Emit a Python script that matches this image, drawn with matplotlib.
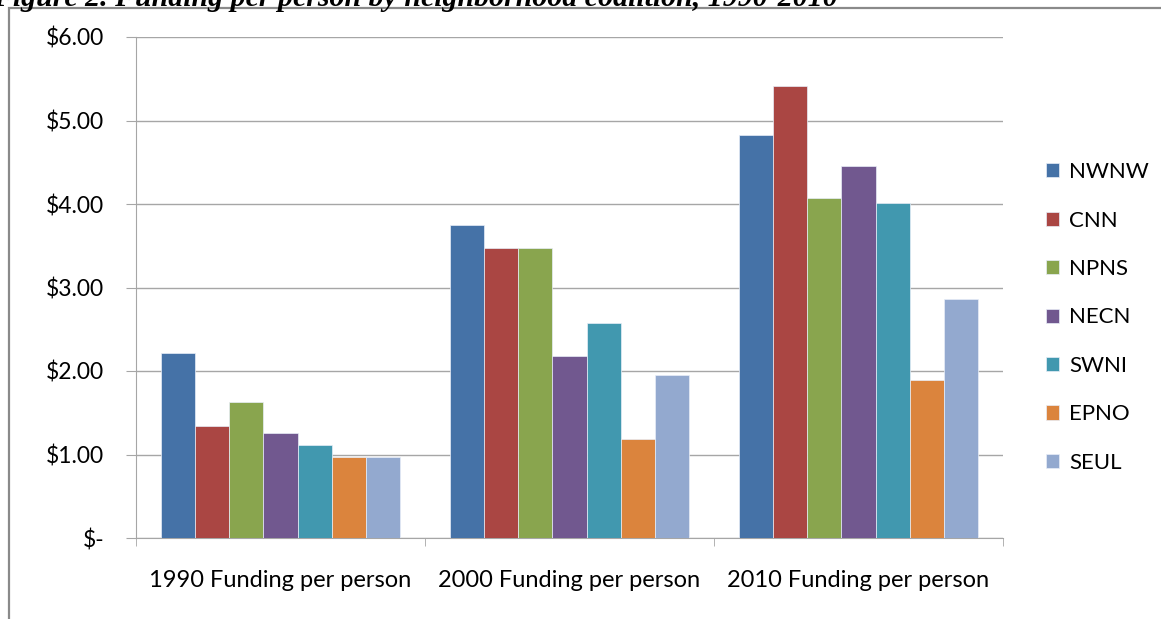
import numpy as np
import matplotlib
matplotlib.use("Agg")
import matplotlib.pyplot as plt
from matplotlib.patches import Rectangle
from matplotlib.ticker import FuncFormatter

# ── data ──
categories = ["1990 Funding per person", "2000 Funding per person", "2010 Funding per person"]
coalitions = ["NWNW", "CNN", "NPNS", "NECN", "SWNI", "EPNO", "SEUL"]

nwnw = [2.22, 3.75, 4.83]
cnn  = [1.34, 3.47, 5.41]
npns = [1.63, 3.47, 4.07]
necn = [1.26, 2.18, 4.46]
swni = [1.11, 2.57, 4.01]
epno = [0.97, 1.19, 1.89]
seul = [0.97, 1.95, 2.86]

series = [nwnw, cnn, npns, necn, swni, epno, seul]
colors = ["#4572A7", "#AA4643", "#89A54E", "#71588F", "#4198AF", "#DB843D", "#93A9CF"]

title = "Figure 2. Funding per person by neighborhood coalition, 1990-2010"

plt.rcParams["font.family"] = ["Lato", "DejaVu Sans"]

W, H = 1161, 619
fig = plt.figure(figsize=(W / 100, H / 100), dpi=100)

# title partly cut off at the top edge, like the scan
fig.text(-0.006, 1 - 6 / H, title, fontsize=21.5, fontweight="bold", fontstyle="italic",
         family="Liberation Serif", va="baseline", ha="left")

# chart border
fig.patches.append(Rectangle((9 / W, -0.01), 1.0, 1 - 8 / H + 0.01, transform=fig.transFigure,
                             fill=False, edgecolor="#8a8a8a", linewidth=1.6))

ax = fig.add_axes([136 / W, 1 - 538 / H, (1003 - 136) / W, (538 - 37) / H])

x = np.arange(len(categories))
bar_w = 0.1177
for i, (vals, name, c) in enumerate(zip(series, coalitions, colors)):
    ax.bar(x + (i - 3) * bar_w, vals, width=bar_w, color=c, label=name,
           edgecolor="#e8eef8", linewidth=0.5, zorder=3)

ax.set_xlim(-0.5, 2.5)
ax.set_ylim(0, 6)
ax.set_yticks(np.arange(0, 7, 1))
ax.yaxis.set_major_formatter(FuncFormatter(lambda v, p: "$-" if v == 0 else f"${v:.2f}"))
ax.grid(axis="y", color="#a6a6a6", linewidth=1, zorder=0)

ax.set_xticks(x)
ax.set_xticklabels(categories)
ax.set_xticks([-0.5, 0.5, 1.5, 2.5], minor=True)
ax.tick_params(axis="x", which="major", length=0, pad=23, labelsize=17)
ax.tick_params(axis="x", which="minor", length=6, color="#a6a6a6")
ax.tick_params(axis="y", length=7, color="#a6a6a6", pad=16, labelsize=16.5)

for s in ["top", "right"]:
    ax.spines[s].set_visible(False)
for s in ["left", "bottom"]:
    ax.spines[s].set_color("#a6a6a6")

fig.legend(loc="upper left", bbox_to_anchor=(1035 / W, 1 - 151 / H), frameon=False,
           fontsize=16, handlelength=0.6, handleheight=0.6, handletextpad=0.45,
           labelspacing=1.28, borderpad=0)

fig.savefig("out.png", dpi=100)
